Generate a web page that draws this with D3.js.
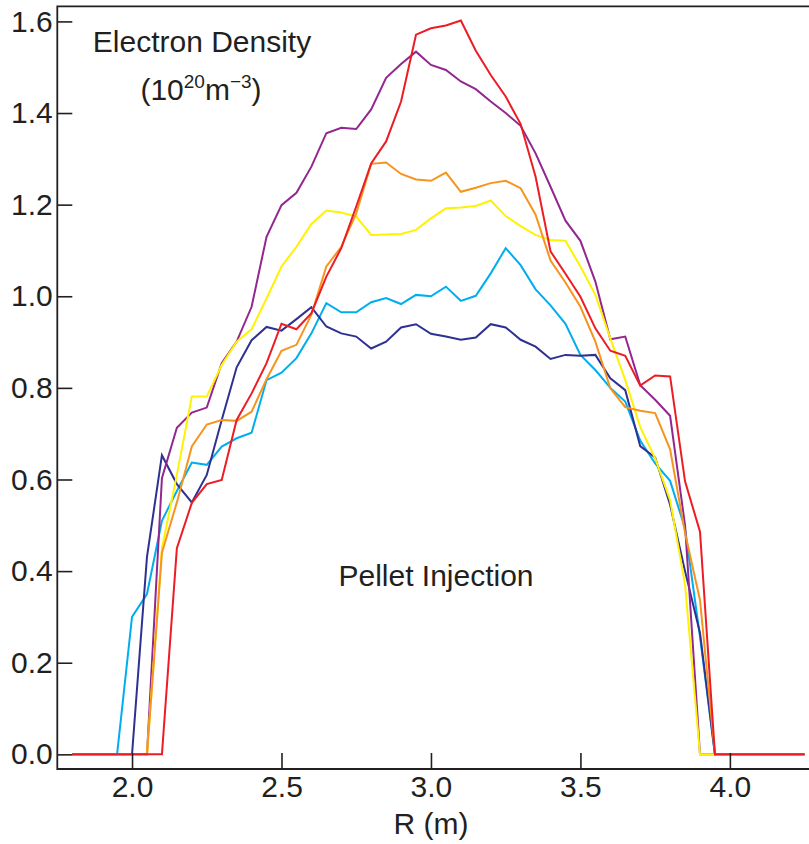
<!DOCTYPE html>
<html>
<head>
<meta charset="utf-8">
<script src="https://cdn.jsdelivr.net/npm/d3@7"></script>
<style>
    html, body { margin: 0; padding: 0; background: #fff; }
    svg { display: block; }
    text { font-family: "Liberation Sans", Arial, Helvetica, sans-serif; fill: #231f20; }
</style>
</head>
<body>
<svg id="svg-density-graph"></svg>
<script>

// R positions (m), one every 0.05 from 1.80 to 4.25
const radius = d3.range(50).map(i => +(1.80 + i * 0.05).toFixed(2));

// Electron density profiles (10^20 m^-3)
const cyanSeries = [0, 0, 0, 0, 0.30, 0.35, 0.51, 0.575, 0.637, 0.632, 0.672, 0.69, 0.702, 0.817, 0.833, 0.865, 0.919, 0.985, 0.965, 0.965, 0.987, 0.996, 0.983, 1.003, 1.0, 1.021, 0.99, 1.001, 1.05, 1.105, 1.068, 1.015, 0.98, 0.94, 0.872, 0.839, 0.80, 0.77, 0.685, 0.635, 0.597, 0.493, 0.257, 0, 0, 0, 0, 0, 0, 0];
const navySeries = [0, 0, 0, 0, 0, 0.431, 0.653, 0.59, 0.55, 0.61, 0.73, 0.845, 0.904, 0.933, 0.925, 0.95, 0.976, 0.934, 0.919, 0.912, 0.886, 0.901, 0.932, 0.939, 0.918, 0.912, 0.905, 0.91, 0.939, 0.932, 0.905, 0.89, 0.863, 0.872, 0.87, 0.872, 0.821, 0.795, 0.673, 0.648, 0.545, 0.40, 0.265, 0, 0, 0, 0, 0, 0, 0];
const purpleSeries = [0, 0, 0, 0, 0, 0, 0.603, 0.713, 0.746, 0.757, 0.854, 0.901, 0.977, 1.13, 1.199, 1.226, 1.283, 1.356, 1.368, 1.365, 1.408, 1.477, 1.507, 1.534, 1.505, 1.494, 1.469, 1.452, 1.425, 1.40, 1.372, 1.312, 1.239, 1.165, 1.121, 1.032, 0.906, 0.912, 0.806, 0.774, 0.739, 0.50, 0, 0, 0, 0, 0, 0, 0, 0];
const yellowSeries = [0, 0, 0, 0, 0, 0, 0.45, 0.61, 0.781, 0.781, 0.85, 0.901, 0.928, 0.995, 1.065, 1.108, 1.158, 1.187, 1.183, 1.174, 1.134, 1.135, 1.136, 1.145, 1.17, 1.192, 1.194, 1.197, 1.209, 1.175, 1.153, 1.134, 1.123, 1.121, 1.065, 1.003, 0.908, 0.817, 0.715, 0.646, 0.555, 0.37, 0, 0, 0, 0, 0, 0, 0, 0];
const orangeSeries = [0, 0, 0, 0, 0, 0, 0.44, 0.55, 0.672, 0.72, 0.73, 0.728, 0.748, 0.819, 0.881, 0.894, 0.96, 1.065, 1.108, 1.181, 1.289, 1.292, 1.267, 1.255, 1.252, 1.27, 1.228, 1.237, 1.247, 1.252, 1.236, 1.178, 1.078, 1.03, 0.977, 0.901, 0.799, 0.758, 0.75, 0.745, 0.666, 0.483, 0.337, 0, 0, 0, 0, 0, 0, 0];
const redSeries = [0, 0, 0, 0, 0, 0, 0, 0.45, 0.549, 0.59, 0.599, 0.73, 0.788, 0.854, 0.94, 0.928, 0.963, 1.043, 1.105, 1.196, 1.29, 1.338, 1.425, 1.571, 1.585, 1.591, 1.602, 1.536, 1.483, 1.436, 1.376, 1.261, 1.098, 1.049, 0.999, 0.93, 0.881, 0.87, 0.805, 0.827, 0.825, 0.596, 0.486, 0, 0, 0, 0, 0, 0, 0];

const seriesColors = ['#00aeef', '#2e3192', '#92278f', '#fff200', '#f7941d', '#ed1c24'];

// Tick labels
const xTicks = [2.0, 2.5, 3.0, 3.5, 4.0];
const yTicks = [0.0, 0.2, 0.4, 0.6, 0.8, 1.0, 1.2, 1.4, 1.6];

(function() {

    const w = 809;
    const h = 844;

    const left = 57.3;
    const right = 810;
    const top = 6.3;
    const bottom = 769;
    const ink = '#231f20';

    const allSeries = [cyanSeries, navySeries, purpleSeries, yellowSeries, orangeSeries, redSeries];

    // Scales
    const scaleX = d3.scaleLinear().domain([1.75, 4.268]).range([left, right]);
    const scaleY = d3.scaleLinear().domain([-0.032, 1.633]).range([bottom, top]);

    const svg = d3.select('#svg-density-graph')
        .attr('width', w)
        .attr('height', h);

    // Profiles
    const line = d3.line()
        .x((d, i) => scaleX(radius[i]))
        .y(d => scaleY(d));

    svg.append('g')
        .selectAll('path')
        .data(allSeries)
        .join('path')
        .attr('d', line)
        .attr('fill', 'none')
        .attr('stroke', (d, i) => seriesColors[i])
        .attr('stroke-width', 2)
        .attr('stroke-linejoin', 'miter');

    // Axes, ticks pointing inward
    const xAxis = d3.axisBottom(scaleX)
        .tickValues(xTicks)
        .tickFormat(d3.format('.1f'))
        .tickSizeInner(-16)
        .tickSizeOuter(0)
        .tickPadding(7);

    const yAxis = d3.axisLeft(scaleY)
        .tickValues(yTicks)
        .tickFormat(d3.format('.1f'))
        .tickSizeInner(-15)
        .tickSizeOuter(0)
        .tickPadding(4.5);

    const gx = svg.append('g')
        .attr('transform', `translate(0, ${bottom})`)
        .call(xAxis);

    const gy = svg.append('g')
        .attr('transform', `translate(${left}, 0)`)
        .call(yAxis);

    [gx, gy].forEach(g => {
        g.select('.domain').remove();
        g.selectAll('line').attr('stroke', ink).attr('stroke-width', 1.6);
        g.selectAll('text')
            .attr('font-family', '"Liberation Sans", Arial, Helvetica, sans-serif')
            .attr('font-size', 30)
            .attr('fill', ink);
    });

    // Frame: left, top, bottom
    svg.append('path')
        .attr('d', `M${right},${top}H${left}V${bottom}H${right}`)
        .attr('fill', 'none')
        .attr('stroke', ink)
        .attr('stroke-width', 1.8);

    // Axis title
    svg.append('text')
        .attr('x', scaleX(3.0))
        .attr('y', 834)
        .attr('text-anchor', 'middle')
        .attr('font-size', 30)
        .text('R (m)');

    // Chart title
    svg.append('text')
        .attr('x', 202)
        .attr('y', 52)
        .attr('text-anchor', 'middle')
        .attr('font-size', 30)
        .text('Electron Density');

    const units = svg.append('text')
        .attr('x', 201)
        .attr('y', 100)
        .attr('text-anchor', 'middle')
        .attr('font-size', 30);
    units.append('tspan').text('(10');
    units.append('tspan').attr('dy', -12).attr('font-size', 19).text('20');
    units.append('tspan').attr('dy', 12).text('m');
    units.append('tspan').attr('dy', -12).attr('font-size', 19).text('\u22123');
    units.append('tspan').attr('dy', 12).text(')');

    // Annotation
    svg.append('text')
        .attr('x', 436)
        .attr('y', 586)
        .attr('text-anchor', 'middle')
        .attr('font-size', 30)
        .text('Pellet Injection');

})();
</script>
</body>
</html>
